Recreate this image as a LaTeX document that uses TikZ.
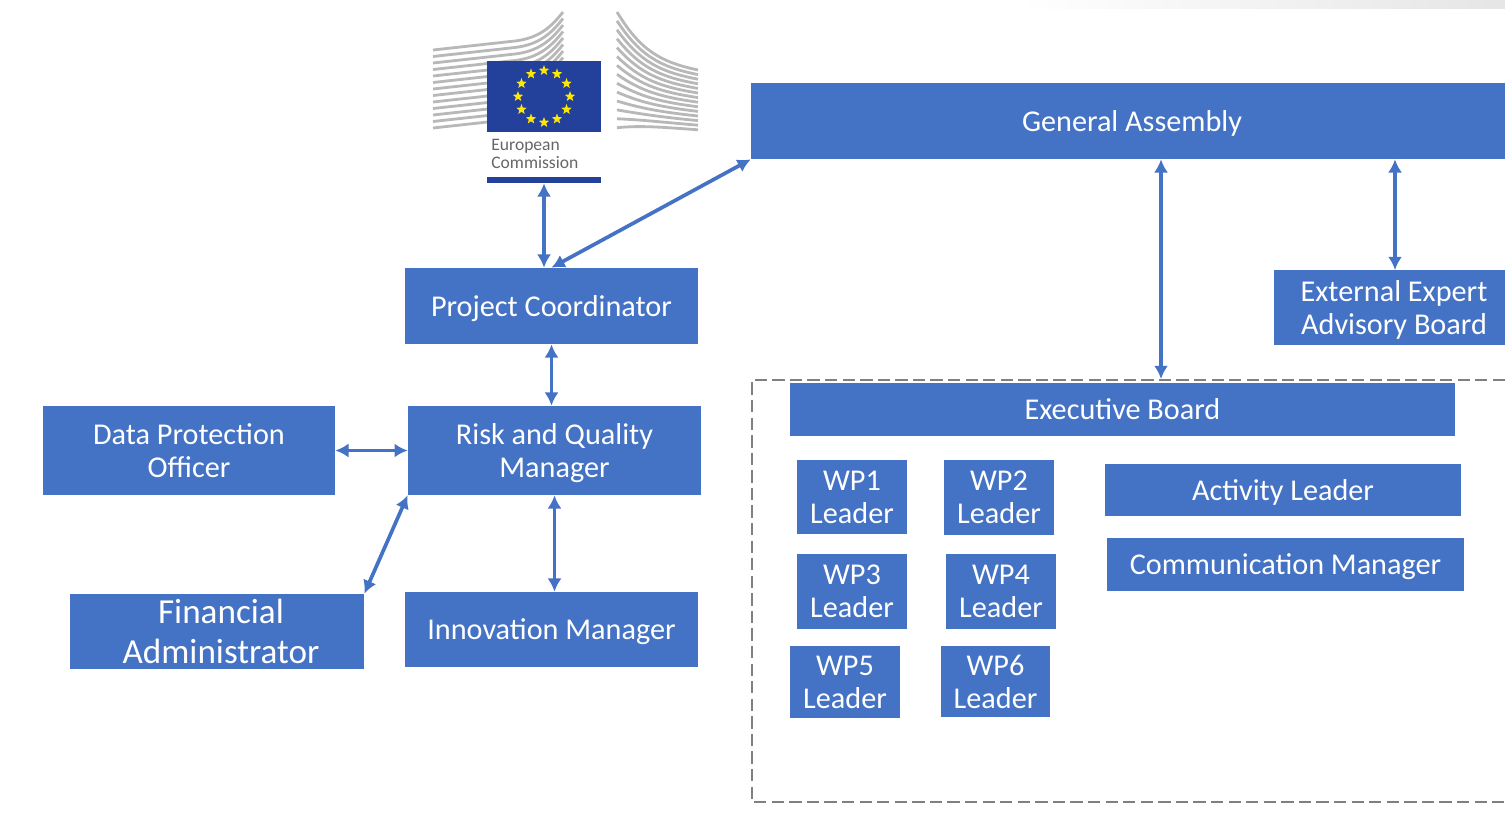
\documentclass[tikz,border=0pt]{standalone}
\usepackage{fontspec}
\setmainfont{Carlito}
\usetikzlibrary{shapes.geometric,calc,arrows.meta}
\definecolor{boxblue}{HTML}{4472C4}
\definecolor{flagblue}{HTML}{23409A}
\tikzset{block/.style = {fill=boxblue, text=white, rectangle, inner sep=0pt, align=center, font=\fontsize{17.2}{18.7}\selectfont},
         lowblock/.style = {block, text depth=0pt},
         wpblock/.style = {block, minimum height=1.5cm, minimum width=2.2cm},
         link/.style = {boxblue, line width=2.1pt, {Latex[width=8pt,length=7.5pt]}-{Latex[width=8pt,length=7.5pt]}},
         wing/.style = {black!28, line width=1.6pt},
         eustar/.style = {star, star points=5, star point ratio=2.4, fill=yellow!90!orange, inner sep=0pt, minimum size=0.22cm}}

\begin{document}
\begin{tikzpicture}[x=0.02cm,y=-0.02cm]
    \useasboundingbox(0,0)rectangle(1505,818);
    \shade[left color=white, right color=black!10](1020,0)rectangle(1505,8);
    % logo
    \foreach \i in {0,...,12}{
        \draw[wing](433,{50+6.5*\i})--(515,{41+6.5*\i})..controls(540,{38+6.5*\i})and(552,{26+6.5*\i})..(563,{12+6.5*\i});
    }
    \foreach \i in {0,...,13}{
        \draw[wing](617,{12+8.9*\i})..controls(640,{50+5.8*\i})and(660,{62+5*\i})..(698,{70+4.6*\i});
    }
    \node[fill=flagblue, inner sep=0pt, minimum width=2.28cm, minimum height=1.42cm](flag)at(544,96.5){};
    \foreach \i in {1,...,12}{
        \node[eustar](star\i)at($(flag.center)+({90-30*\i}:0.52cm)$){};
    }
    \node[anchor=west, text=black!60, align=left, inner sep=0pt, font=\fontsize{10}{10.2}\selectfont](ectext)at(491,154){European\\Commission};
    \node[fill=flagblue, inner sep=0pt, minimum width=2.28cm, minimum height=0.12cm](ecbar)at(544,180){};
    % boxes
    \node[lowblock, minimum width=15.08cm, minimum height=1.52cm](ga)at(1128,121){\hspace*{0.16cm}General Assembly};
    \node[lowblock, minimum width=4.62cm, minimum height=1.5cm](expert)at(1389.5,307.5){\hspace*{0.18cm}External Expert\\\hspace*{0.18cm}Advisory Board};
    \node[lowblock, minimum width=5.86cm, minimum height=1.52cm](pc)at(551.5,306){Project Coordinator};
    \node[lowblock, minimum width=5.86cm, minimum height=1.78cm](risk)at(554.5,450.5){Risk and Quality\\Manager};
    \node[block, minimum width=5.84cm, minimum height=1.78cm](dpo)at(189,450.5){Data Protection\\Officer};
    \node[block, minimum width=5.88cm, minimum height=1.5cm, font=\fontsize{20}{22.5}\selectfont](fin)at(217,631.5){\hspace*{0.16cm}Financial\\\hspace*{0.16cm}Administrator};
    \node[lowblock, minimum width=5.86cm, minimum height=1.5cm](inn)at(551.5,629.5){Innovation Manager};
    \node[block, minimum width=13.3cm, minimum height=1.06cm](eb)at(1122.5,409.5){Executive Board};
    \node[wpblock](wp1)at(852,497){WP1\\Leader};
    \node[wpblock](wp2)at(999,497.5){WP2\\Leader};
    \node[wpblock](wp3)at(852,591.5){WP3\\Leader};
    \node[wpblock](wp4)at(1001,591.5){WP4\\Leader};
    \node[wpblock, minimum height=1.44cm](wp5)at(845,682){WP5\\Leader};
    \node[wpblock, minimum height=1.42cm](wp6)at(995.5,681.5){WP6\\Leader};
    \node[lowblock, minimum width=7.12cm, minimum height=1.04cm](act)at(1283,490){Activity Leader};
    \node[lowblock, minimum width=7.14cm, minimum height=1.06cm](com)at(1285.5,564.5){Communication Manager};
    % dashed frame
    \draw[black!50, line width=1.5pt, dash pattern=on 7pt off 3pt](1505,380)--(752,380)--(752,802)--(1505,802);
    \coordinate(frametop)at(1161,379);
    \coordinate(exptop)at(1395,270);
    % arrows
    \draw[link](ecbar.south)--(ecbar.south |- pc.north);
    \draw[link](ga.south west)--(pc.north);
    \draw[link](ga.south -| frametop)--(frametop);
    \draw[link](ga.south -| exptop)--(exptop);
    \draw[link](pc.south)--(pc.south |- risk.north);
    \draw[link](dpo.east)--(risk.west);
    \draw[link](fin.north east)--(risk.south west);
    \draw[link](risk.south)--(risk.south |- inn.north);
\end{tikzpicture}
\end{document}
